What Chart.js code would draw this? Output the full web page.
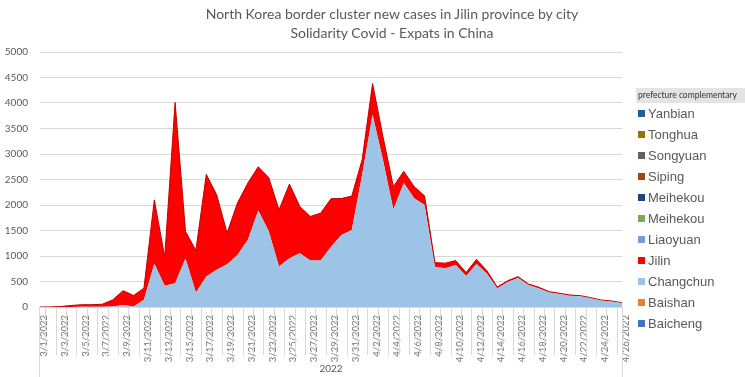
<!DOCTYPE html>
<html>
<head>
<meta charset="utf-8">
<script src="https://cdn.jsdelivr.net/npm/chart.js@4.4.1/dist/chart.umd.min.js"></script>
<style>
  body { margin: 0; background: #fff; overflow: hidden; }
  #wrap { position: relative; width: 745px; height: 377px; }
  #title { position: absolute; left: 0; top: 4px; width: 784px; text-align: center;
    font-family: Lato, sans-serif; font-size: 14px; line-height: 19px; color: #595959; }
  #legend { position: absolute; left: 636px; top: 88px; width: 109px; font-family: "Liberation Sans", Arial, sans-serif; }
  #legend .head { background: #e4e4e4; font-family: Lato, sans-serif; font-size: 8.5px; color: #333; height: 15px; line-height: 15px; padding-left: 2px; white-space: nowrap; }
  #legend .item { height: 21px; line-height: 21px; font-size: 13px; color: #595959; white-space: nowrap; }
  #legend .item i { display: inline-block; width: 7px; height: 7px; margin: 0 3px 0 2px; vertical-align: 1px; }
  canvas { position: absolute; left: 0; top: 0; }
</style>
</head>
<body>
<div id="wrap">
  <canvas id="chart" width="745" height="377"></canvas>
  <div id="title">North Korea border cluster new cases in Jilin province by city<br>Solidarity Covid - Expats in China</div>
  <div id="legend"></div>
</div>
<script>
const dates = ['3/1/2022','3/2/2022','3/3/2022','3/4/2022','3/5/2022','3/6/2022','3/7/2022','3/8/2022','3/9/2022','3/10/2022',
  '3/11/2022','3/12/2022','3/13/2022','3/14/2022','3/15/2022','3/16/2022','3/17/2022','3/18/2022','3/19/2022','3/20/2022',
  '3/21/2022','3/22/2022','3/23/2022','3/24/2022','3/25/2022','3/26/2022','3/27/2022','3/28/2022','3/29/2022','3/30/2022',
  '3/31/2022','4/1/2022','4/2/2022','4/3/2022','4/4/2022','4/5/2022','4/6/2022','4/7/2022','4/8/2022','4/9/2022',
  '4/10/2022','4/11/2022','4/12/2022','4/13/2022','4/14/2022','4/15/2022','4/16/2022','4/17/2022','4/18/2022','4/19/2022',
  '4/20/2022','4/21/2022','4/22/2022','4/23/2022','4/24/2022','4/25/2022','4/26/2022'];

const changchun = [0,0,0,2,5,5,5,10,40,10, 140,850,415,465,950,285,600,730,840,1020,
  1320,1890,1490,795,955,1055,910,910,1183,1412, 1510,2600,3770,2880,1910,2430,2130,2000,790,760,
  825,610,845,650,365,490,570,430,365,285, 255,222,210,172,128,110,78];
const jilin = [0,2,10,28,40,40,50,130,280,215, 230,1250,565,3545,530,825,2000,1470,610,1020,
  1110,860,1050,1110,1455,915,865,930,940,715, 665,290,610,460,450,230,230,180,80,100,
  85,65,90,60,25,26,25,21,21,16, 13,13,12,11,9,8,7];
// the other prefectures barely register on this scale
const zeros = [0,0,0,0,0,0,0,0,0,0, 0,0,0,0,0,0,0,0,0,0, 0,0,0,0,0,0,0,0,0,0,
  0,0,0,0,0,0,0,0,0,0, 0,0,0,0,0,0,0,0,0,0, 0,0,0,0,0,0,0];

const yTicks = [0,500,1000,1500,2000,2500,3000,3500,4000,4500,5000];

// stack order bottom -> top
const series = [
  { name: 'Baicheng', data: zeros, color: '#4472c4' },
  { name: 'Baishan', data: zeros, color: '#ed7d31' },
  { name: 'Changchun', data: changchun, color: '#9dc3e6' },
  { name: 'Jilin', data: jilin, color: '#ff0000' },
  { name: 'Liaoyuan', data: zeros, color: '#6fa0d8' },
  { name: 'Meihekou', data: zeros, color: '#74ad55' },
  { name: 'Meihekou', data: zeros, color: '#264478' },
  { name: 'Siping', data: zeros, color: '#9e480e' },
  { name: 'Songyuan', data: zeros, color: '#636363' },
  { name: 'Tonghua', data: zeros, color: '#997300' },
  { name: 'Yanbian', data: zeros, color: '#255e91' }
];

// legend, top of stack first like Excel
const legend = document.getElementById('legend');
legend.innerHTML = '<div class="head">prefecture complementary</div>' +
  series.slice().reverse().map(s => `<div class="item"><i style="background:${s.color}"></i>${s.name}</div>`).join('');

// tick lines under the axis and the outer boundary lines
const axisLines = {
  id: 'axisLines',
  afterDraw(chart) {
    const { ctx, chartArea, scales: { x } } = chart;
    ctx.save();
    ctx.strokeStyle = '#d9d9d9';
    ctx.lineWidth = 1;
    ctx.beginPath();
    for (let i = 1; i < dates.length; i++) {
      const px = Math.round((x.getPixelForValue(i) + x.getPixelForValue(i - 1)) / 2) + 0.5;
      ctx.moveTo(px, chartArea.bottom);
      ctx.lineTo(px, chartArea.bottom + 48);
    }
    ctx.moveTo(Math.round(chartArea.left) - 0.5, chartArea.bottom);
    ctx.lineTo(Math.round(chartArea.left) - 0.5, 377);
    ctx.moveTo(Math.round(chartArea.right) + 0.5, chartArea.bottom);
    ctx.lineTo(Math.round(chartArea.right) + 0.5, 377);
    ctx.stroke();
    ctx.restore();
  }
};

new Chart(document.getElementById('chart').getContext('2d'), {
  type: 'line',
  data: {
    labels: dates,
    datasets: series.map(s => ({
      label: s.name,
      data: s.data,
      backgroundColor: s.color,
      borderColor: s.name === 'Jilin' ? '#c00000' : s.color,
      borderWidth: s.name === 'Jilin' ? 1 : 0,
      fill: 'stack',
      pointRadius: 0,
      tension: 0
    }))
  },
  options: {
    responsive: false,
    animation: false,
    layout: { padding: { left: 0, right: 123, top: 52, bottom: 0 } },
    plugins: { legend: { display: false }, tooltip: { enabled: false } },
    scales: {
      x: {
        offset: false,
        grid: { display: false },
        border: { display: true, color: '#d9d9d9' },
        ticks: {
          autoSkip: false, minRotation: 90, maxRotation: 90, padding: 0, labelOffset: 4,
          color: '#767676', font: { family: 'Lato', size: 9.5 },
          callback: (v, i) => (i % 2 === 0 ? dates[i] : '')
        },
        title: { display: true, text: '2022', color: '#595959', font: { family: 'Lato', size: 10 }, padding: { top: 2, bottom: 2 } },
        afterFit: s => { s.height = 70; }
      },
      y: {
        stacked: true,
        min: 0, max: 5000,
        afterBuildTicks: s => { s.ticks = yTicks.map(v => ({ value: v })); },
        grid: { color: '#d9d9d9', drawTicks: false },
        border: { display: false },
        ticks: { padding: 12, color: '#595959', font: { family: 'Lato', size: 10 }, callback: v => String(v) },
        afterFit: s => { s.width = 40; }
      }
    }
  },
  plugins: [axisLines]
});
</script>
</body>
</html>
